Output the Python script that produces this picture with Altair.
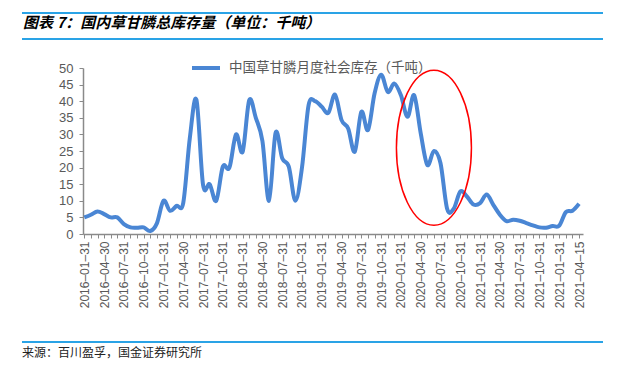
import altair as alt
import pandas as pd

# ---- data ----
tick_labels = [
    "2016-01-31", "2016-04-30", "2016-07-31", "2016-10-31",
    "2017-01-31", "2017-04-30", "2017-07-31", "2017-10-31",
    "2018-01-31", "2018-04-30", "2018-07-31", "2018-10-31",
    "2019-01-31", "2019-04-30", "2019-07-31", "2019-10-31",
    "2020-01-31", "2020-04-30", "2020-07-31", "2020-10-31",
    "2021-01-31", "2021-04-30", "2021-07-31", "2021-10-31",
    "2021-01-31", "2021-04-15",
]

stock_values = [
    5.0, 5.8, 6.8, 6.0, 5.0, 5.0, 3.0, 2.0, 1.9, 2.0,
    0.9, 3.2, 10.0, 7.0, 8.5, 9.4, 29.0, 40.4, 14.8, 15.0,
    10.0, 20.3, 20.0, 30.0, 24.8, 40.3, 35.0, 28.0, 10.0, 30.5,
    22.8, 20.3, 10.0, 20.0, 38.8, 40.0, 38.3, 36.5, 42.0, 34.3,
    31.8, 24.8, 36.8, 31.3, 42.3, 48.0, 42.8, 45.3, 41.8, 35.3,
    41.8, 30.3, 20.8, 25.0, 21.3, 7.6, 7.6, 12.8, 11.3, 8.9,
    9.3, 11.9, 8.8, 5.8, 3.9, 4.3, 4.0, 3.3, 2.6, 2.0,
    1.9, 2.4, 2.5, 6.6, 7.0, 9.1,
]

series_name = "中国草甘膦月度社会库存（千吨）"
title_text = "图表 7：国内草甘膦总库存量（单位：千吨）"
source_text = "来源：百川盈孚，国金证券研究所"

# annotation ellipse centre (month index, value)
ellipse_month = [53]
ellipse_value = [26]

df = pd.DataFrame({
    "month_index": list(range(len(stock_values))),
    "value": stock_values,
    "series": series_name,
})

label_array = "[" + ",".join("'" + s.replace("-", "–") + "'" for s in tick_labels) + "]"
label_expr = f"datum.value % 3 == 0 ? {label_array}[datum.value / 3] : ''"

AXIS_GREY = "#8a8a8a"
TEXT_GREY = "#595959"
BLUE = "#4a86d4"
RULE_BLUE = "#2aa3e6"

x_enc = alt.X(
    "month_index:Q",
    scale=alt.Scale(domain=[-0.2, 75.6], nice=False, zero=False),
    axis=alt.Axis(
        title=None, grid=False, values=list(range(len(stock_values))),
        labelExpr=label_expr, labelAngle=-90, labelOverlap=False,
        labelFont="Liberation Sans", labelFontSize=12, labelColor=TEXT_GREY,
        labelPadding=3, labelFlush=False, labelBound=False,
        tickSize=4, tickColor=AXIS_GREY, tickWidth=1,
        domainColor=AXIS_GREY, domainWidth=1.5,
    ),
)
y_enc = alt.Y(
    "value:Q",
    scale=alt.Scale(domain=[0, 50], nice=False),
    axis=alt.Axis(
        title=None, grid=False, values=list(range(0, 51, 5)),
        labelOverlap=False, labelFlush=False,
        labelFont="Liberation Sans", labelFontSize=13, labelColor=TEXT_GREY,
        labelPadding=6, tickSize=4, tickColor=AXIS_GREY, tickWidth=1,
        domainColor=AXIS_GREY, domainWidth=1.5,
    ),
)

line = alt.Chart(df).mark_line(strokeWidth=4, interpolate="cardinal").encode(
    x=x_enc,
    y=y_enc,
    color=alt.Color(
        "series:N",
        scale=alt.Scale(range=[BLUE]),
        legend=alt.Legend(
            title=None, orient="none", legendX=107, legendY=-16,
            symbolType="stroke", symbolStrokeWidth=4, symbolSize=784,
            labelFont="Noto Sans CJK SC", labelFontSize=13.5, labelLimit=400,
            labelColor=TEXT_GREY, labelOffset=7, padding=0,
        ),
    ),
)

ellipse_df = pd.DataFrame({"month_index": ellipse_month, "value": ellipse_value})
ellipse = alt.Chart(ellipse_df).mark_point(
    shape="M -0.484,0 A 0.484,1 0 1,1 0.484,0 A 0.484,1 0 1,1 -0.484,0 Z",
    size=24025, filled=False, stroke="#ff0000", strokeWidth=1.5, opacity=1,
).encode(x=x_enc, y=y_enc)

one = pd.DataFrame({"t": [0]})

title_mark = alt.Chart(pd.DataFrame({"t": [title_text]})).mark_text(
    align="left", baseline="middle", font="Noto Sans CJK SC", fontSize=15,
    fontWeight="bold", fontStyle="italic", color="#000000",
).encode(x=alt.value(-60), y=alt.value(-45), text="t:N")

source_mark = alt.Chart(pd.DataFrame({"t": [source_text]})).mark_text(
    align="left", baseline="middle", font="Noto Sans CJK SC", fontSize=12,
    color="#222222",
).encode(x=alt.value(-61), y=alt.value(285), text="t:N")

rule_top = alt.Chart(one).mark_rule(color=RULE_BLUE, strokeWidth=2).encode(
    x=alt.value(-61), x2=alt.value(532), y=alt.value(-55))
rule_title = alt.Chart(one).mark_rule(color=RULE_BLUE, strokeWidth=2).encode(
    x=alt.value(-61), x2=alt.value(532), y=alt.value(-29))
rule_source = alt.Chart(one).mark_rule(color=RULE_BLUE, strokeWidth=2).encode(
    x=alt.value(-61), x2=alt.value(532), y=alt.value(274))

chart = alt.layer(
    rule_top, rule_title, rule_source, title_mark, source_mark, line, ellipse
).properties(
    width=500, height=166,
    autosize=alt.AutoSizeParams(type="none"),
    padding={"left": 75, "top": 60, "right": 20, "bottom": 126},
).configure_view(stroke=None)

chart.save("out.html", embed_options={"renderer": "svg", "actions": False})
